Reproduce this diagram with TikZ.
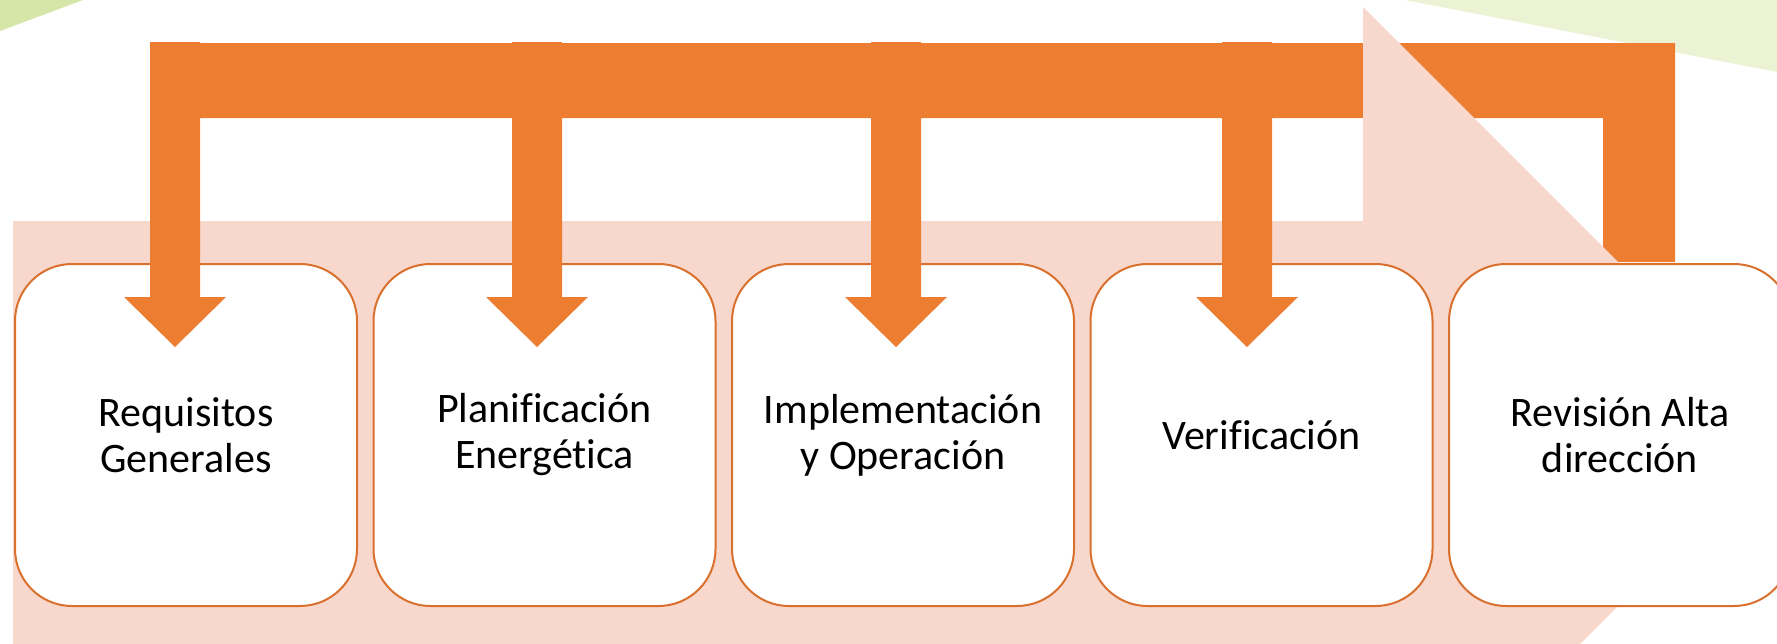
\documentclass[tikz,border=0pt]{standalone}
\usepackage{fontspec}
\setmainfont{Carlito}[Ligatures=NoCommon]
\usetikzlibrary{calc}
\definecolor{orng}{HTML}{ED7D31}
\definecolor{pnk}{HTML}{F8D8CD}
\definecolor{bordr}{HTML}{D9702E}
\definecolor{grnA}{HTML}{D6E6A9}
\definecolor{grnB}{HTML}{EBF3D4}
\begin{document}
\begin{tikzpicture}[x=0.5pt,y=-0.5pt,
  stagebox/.style={draw=bordr, line width=1pt, fill=white, rounded corners=28.5pt,
    minimum width=171pt, minimum height=171pt, inner sep=0pt, align=center,
    font=\fontsize{21}{23}\selectfont, anchor=north west},
  flow/.style={fill=orng},
  band/.style={fill=pnk}]
\useasboundingbox (0,0) rectangle (1777,643);
\begin{scope}
\clip (0,0) rectangle (1777,643);
\fill[grnA] (0,0) -- (83,0) -- (0,31) -- cycle;
\fill[grnB] (1405,0) -- (1777,72) -- (1777,0) -- cycle;
% feedback bar
\fill[flow] (150,43) -- (1675,43) -- (1675,262) -- (1603,262) -- (1603,118) -- (150,118) -- cycle;
% big background arrow
\fill[band] (13,221) -- (1363,221) -- (1363,7) -- (1790,434) -- (1363,861) -- (1363,647) -- (13,647) -- cycle;
% stages
\node[stagebox] (s1) at (14,263) {Requisitos\\Generales};
\node[stagebox] (s2) at (372.5,263) {Planificación\\Energética};
\node[stagebox] (s3) at (731,263) {Implementación\\y Operación};
\node[stagebox] (s4) at (1089.5,263) {Verificación};
\node[stagebox] (s5) at (1448,263) {Revisión Alta\\dirección};
% down arrows
\foreach \i/\x in {1/175,2/537,3/896,4/1247}{
  \coordinate (top\i) at (\x,42);
  \coordinate (tip\i) at (\x,347);
  \fill[flow] ($(top\i)+(-25,0)$) -- ($(top\i)+(25,0)$) -- ($(tip\i)+(25,-50)$)
    -- ($(tip\i)+(51,-50)$) -- (tip\i) -- ($(tip\i)+(-51,-50)$) -- ($(tip\i)+(-25,-50)$) -- cycle;
}
\end{scope}
\end{tikzpicture}
\end{document}
